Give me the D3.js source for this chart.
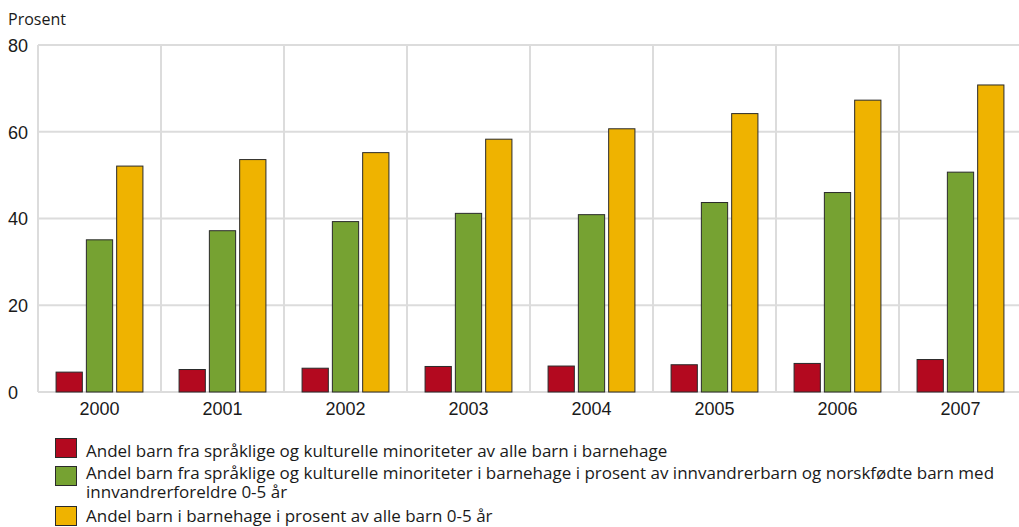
<!DOCTYPE html>
<html><head><meta charset="utf-8">
<script src="https://cdn.jsdelivr.net/npm/d3@7"></script>
<style>
html,body{margin:0;padding:0;background:#fff;}
svg{display:block;font-family:"Open Sans","DejaVu Sans",sans-serif;}
</style></head>
<body>
<svg id="chart" width="1019" height="527"></svg>
<script>
const years = ["2000","2001","2002","2003","2004","2005","2006","2007"];
const minoritetAndel = [4.7, 5.3, 5.6, 6.0, 6.1, 6.4, 6.7, 7.6];
const minoritetDekning = [35.2, 37.3, 39.4, 41.3, 41.0, 43.8, 46.1, 50.8];
const alleBarn = [52.2, 53.7, 55.3, 58.4, 60.8, 64.3, 67.4, 70.9];
const yTicks = [0, 20, 40, 60, 80];
const seriesNames = [
  ["Andel barn fra språklige og kulturelle minoriteter av alle barn i barnehage"],
  ["Andel barn fra språklige og kulturelle minoriteter i barnehage i prosent av innvandrerbarn og norskfødte barn med", "innvandrerforeldre 0-5 år"],
  ["Andel barn i barnehage i prosent av alle barn 0-5 år"]
];
const colors = ["#b3091f", "#76a232", "#efb300"];
const seriesValues = [minoritetAndel, minoritetDekning, alleBarn];

(function(){
const svg = d3.select("#chart");
const mLeft = 38, mRight = 1022, mTop = 45, mBottom = 392;

const x = d3.scaleBand().domain(years).range([mLeft, mRight]).paddingInner(0).paddingOuter(0);
const xs = d3.scaleBand().domain([0,1,2]).range([0, x.bandwidth()]).paddingInner(0.1).paddingOuter(0.58);
const y = d3.scaleLinear().domain([0, 80]).range([mBottom, mTop]);

const grid = svg.append("g");
grid.selectAll("line.h").data(yTicks).join("line")
  .attr("x1", mLeft).attr("x2", mRight)
  .attr("y1", d => y(d)).attr("y2", d => y(d))
  .attr("stroke", "#dcdcdc").attr("stroke-width", 2);
grid.selectAll("line.v").data(years).join("line")
  .attr("x1", d => x(d)).attr("x2", d => x(d))
  .attr("y1", y(80)).attr("y2", y(0))
  .attr("stroke", "#dcdcdc").attr("stroke-width", 2);

const yAxis = d3.axisLeft(y).tickValues(yTicks).tickSize(0).tickPadding(0);
const ya = svg.append("g").attr("transform", `translate(8,0)`).call(yAxis);
ya.select(".domain").remove();
ya.selectAll("text").attr("font-size", 18).attr("fill", "#1a1a1a").attr("font-family", null)
  .attr("text-anchor", "start").attr("x", 0).attr("dy", "0.36em");

const xAxis = d3.axisBottom(x).tickSize(0).tickPadding(10);
const xa = svg.append("g").attr("transform", `translate(0,${mBottom})`).call(xAxis);
xa.select(".domain").remove();
xa.selectAll("text").attr("font-size", 18).attr("fill", "#1a1a1a").attr("font-family", null);

const groups = svg.append("g").selectAll("g").data(years).join("g")
  .attr("transform", d => `translate(${x(d)},0)`);
groups.selectAll("rect").data((d, i) => seriesValues.map((s, k) => ({k, v: s[i]}))).join("rect")
  .attr("x", d => xs(d.k) + 0.5)
  .attr("width", xs.bandwidth() - 1)
  .attr("y", d => y(d.v) + 0.5)
  .attr("height", d => y(0) - y(d.v) - 0.5)
  .attr("fill", d => colors[d.k])
  .attr("stroke", "#2a2a2a").attr("stroke-width", 1);

svg.append("text").attr("x", 8).attr("y", 25).attr("font-size", 16).attr("fill", "#1a1a1a").text("Prosent");

const legendY = [438, 466, 506];
const legendBase = [457, 479, 522];
const leg = svg.append("g");
seriesNames.forEach((lines, i) => {
  leg.append("rect").attr("x", 55.5).attr("y", legendY[i] + 0.5).attr("width", 21).attr("height", 19)
    .attr("fill", colors[i]).attr("stroke", "#2a2a2a").attr("stroke-width", 1);
  const t = leg.append("text").attr("x", 86).attr("y", legendBase[i])
    .attr("font-size", 17).attr("fill", "#1a1a1a");
  lines.forEach((line, j) => {
    t.append("tspan").attr("x", 86).attr("y", legendBase[i] + j * 19).text(line);
  });
});
})();
</script>
</body></html>
